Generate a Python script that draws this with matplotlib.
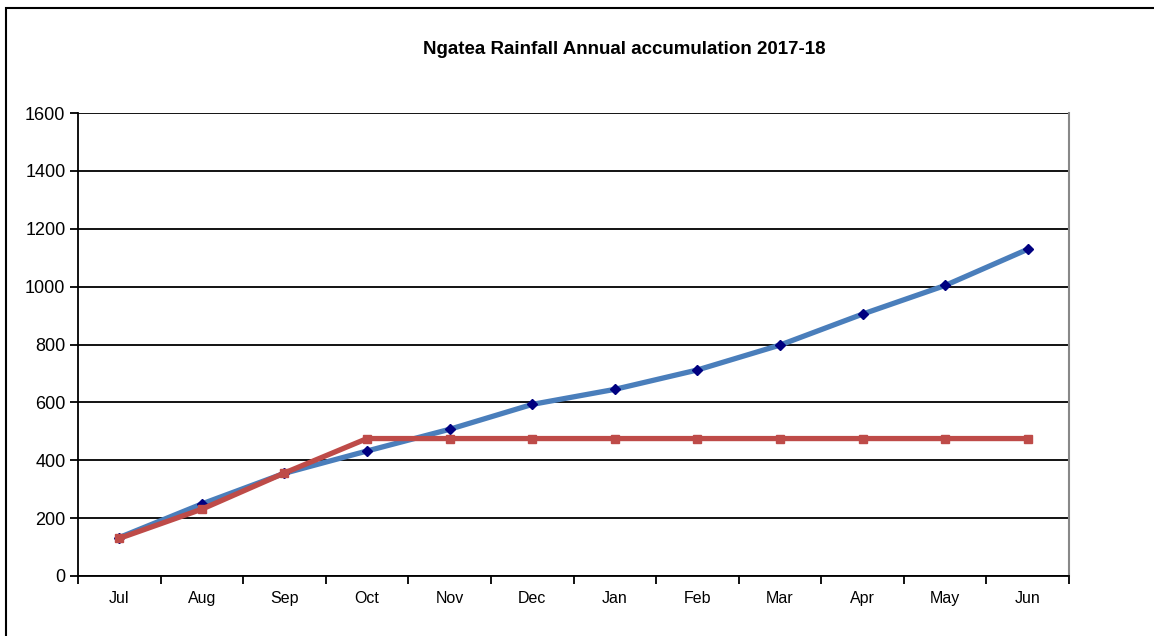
import numpy as np
import matplotlib.pyplot as plt
from matplotlib.patches import Rectangle

# monthly accumulated rainfall (mm)
months = ["Jul", "Aug", "Sep", "Oct", "Nov", "Dec", "Jan", "Feb", "Mar", "Apr", "May", "Jun"]
rain_2017_18 = [133, 249, 355, 432, 507, 593, 645, 712, 798, 905, 1004, 1129]
rain_partial = [130, 231, 356, 475, 475, 475, 475, 475, 475, 475, 475, 475]

plt.rcParams['font.family'] = ['Liberation Sans', 'DejaVu Sans']

fig = plt.figure(figsize=(11.54, 6.36), dpi=100)
ax = fig.add_axes([78 / 1154, 60 / 636, 991 / 1154, 463 / 636])

# outer chart frame
fig.patches.append(Rectangle((6 / 1154, -0.1), 1.2, (636 - 8) / 636 + 0.1,
                             transform=fig.transFigure, fill=False,
                             edgecolor="black", linewidth=1.5))

x = np.arange(len(months))

ax.plot(x, rain_2017_18, color="#4a7ebb", linewidth=3.8, solid_joinstyle="round",
        solid_capstyle="round", zorder=3)
ax.plot(x, rain_2017_18, linestyle="none", marker="D", markersize=5.5,
        color="#000080", zorder=4)

ax.plot(x, rain_partial, color="#be4b48", linewidth=3.8, solid_joinstyle="round",
        solid_capstyle="round", zorder=5)
ax.plot(x, rain_partial, linestyle="none", marker="s", markersize=5.5,
        color="#be4b48", zorder=6)

ax.set_xlim(-0.5, len(months) - 0.5)
ax.set_ylim(0, 1600)
ax.set_yticks(np.arange(0, 1601, 200))
ax.yaxis.grid(True, color="black", linewidth=1.3)
ax.set_axisbelow(True)

ax.set_xticks(np.arange(-0.5, len(months), 1))
ax.set_xticklabels([])
ax.set_xticks(x, minor=True)
ax.set_xticklabels(months, minor=True)
ax.tick_params(axis="x", which="minor", length=0, pad=11, labelsize=11.5)
ax.tick_params(axis="x", which="major", direction="out", length=6, width=1.3)
ax.tick_params(axis="y", direction="out", length=6, width=1.3, labelsize=13, pad=3)

ax.spines["left"].set_linewidth(1.3)
ax.spines["bottom"].set_linewidth(1.3)
ax.spines["top"].set_visible(False)
ax.spines["right"].set_color("#888888")
ax.spines["right"].set_linewidth(1.5)

fig.text(624 / 1154, 1 - 50 / 636, "Ngatea Rainfall Annual accumulation 2017-18",
         ha="center", va="center", fontsize=13.5, fontweight="bold")

fig.savefig("out.png", dpi=100)
